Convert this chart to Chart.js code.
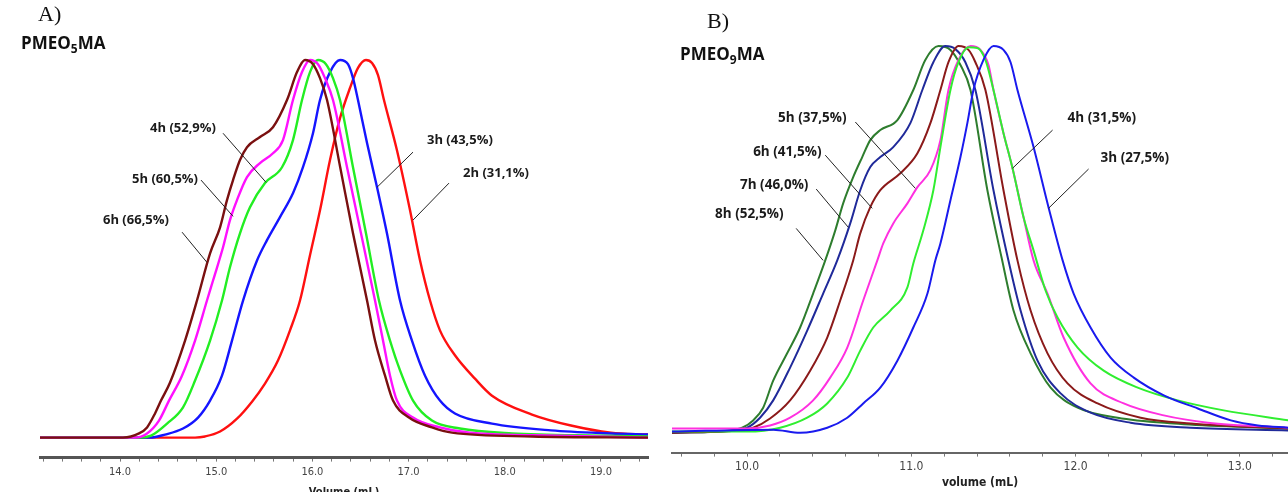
<!DOCTYPE html>
<html lang="en">
<head>
<meta charset="UTF-8">
<title>SEC traces PMEO5MA / PMEO9MA</title>
<script src="https://cdn.jsdelivr.net/npm/chart.js"></script>
<style>
  html, body { margin: 0; padding: 0; background: #fff; overflow: hidden; }
  .wrap { position: relative; width: 1288px; height: 492px; overflow: hidden; }
  canvas { position: absolute; top: 0; }
  #chartA { left: 0; }
  #chartB { left: 665px; }
  .panel { position: absolute; font-family: 'Liberation Serif', serif; font-size: 22px; color: #111; }
  .name { position: absolute; font-family: 'Open Sans', sans-serif; font-weight: bold; font-size: 17px; color: #111; }
  .name sub { font-size: 12px; vertical-align: -4px; line-height: 0; }
</style>
</head>
<body>
<div class="wrap">
  <canvas id="chartA" width="655" height="499"></canvas>
  <canvas id="chartB" width="623" height="492"></canvas>
  <div class="panel" style="left:38px; top:1px;">A)</div>
  <div class="name" style="left:21px; top:31px;">PMEO<sub>5</sub>MA</div>
  <div class="panel" style="left:707px; top:8px;">B)</div>
  <div class="name" style="left:680px; top:42px;">PMEO<sub>9</sub>MA</div>
</div>

<script>
// ---- Panel A: PMEO5MA, [volume mL, normalised signal]
const a2h = [[13.168,0],[14.780,0],[14.884,0.003],[15.040,0.016],[15.216,0.050],[15.372,0.095],[15.507,0.143],[15.642,0.204],[15.767,0.284],[15.871,0.363],[15.975,0.483],[16.079,0.602],[16.183,0.735],[16.287,0.846],[16.391,0.926],[16.474,0.979],[16.557,1.0],[16.620,0.992],[16.682,0.960],[16.744,0.894],[16.879,0.761],[17.015,0.602],[17.119,0.469],[17.223,0.363],[17.326,0.284],[17.482,0.218],[17.690,0.156],[17.867,0.111],[18.283,0.061],[18.688,0.032],[19.104,0.013],[19.489,0.008]];
const a3h = [[13.168,0],[14.312,0],[14.468,0.008],[14.655,0.024],[14.811,0.053],[14.936,0.098],[15.060,0.164],[15.164,0.257],[15.279,0.363],[15.424,0.469],[15.528,0.523],[15.663,0.584],[15.798,0.647],[15.902,0.716],[16.006,0.806],[16.079,0.894],[16.183,0.968],[16.287,1.0],[16.370,0.989],[16.422,0.952],[16.474,0.894],[16.568,0.780],[16.672,0.663],[16.775,0.541],[16.911,0.363],[17.035,0.257],[17.171,0.164],[17.326,0.098],[17.482,0.064],[17.867,0.037],[18.480,0.019],[19.104,0.011],[19.489,0.008]];
const a4h = [[13.168,0],[14.208,0],[14.322,0.005],[14.489,0.037],[14.655,0.080],[14.780,0.151],[14.936,0.257],[15.060,0.363],[15.143,0.451],[15.247,0.541],[15.351,0.610],[15.507,0.674],[15.684,0.716],[15.798,0.788],[15.892,0.894],[15.975,0.968],[16.058,1.0],[16.141,0.989],[16.214,0.952],[16.287,0.894],[16.422,0.716],[16.557,0.541],[16.692,0.363],[16.807,0.257],[16.911,0.178],[17.046,0.098],[17.243,0.045],[17.534,0.024],[18.075,0.011],[18.990,0.005],[19.489,0.003]];
const a5h = [[13.168,0],[14.156,0],[14.281,0.011],[14.405,0.045],[14.509,0.098],[14.644,0.164],[14.780,0.257],[14.904,0.363],[14.967,0.416],[15.071,0.504],[15.143,0.576],[15.216,0.629],[15.320,0.690],[15.455,0.727],[15.590,0.753],[15.694,0.788],[15.798,0.894],[15.892,0.968],[15.975,1.0],[16.058,0.989],[16.131,0.952],[16.214,0.894],[16.360,0.716],[16.505,0.541],[16.651,0.363],[16.734,0.257],[16.807,0.164],[16.879,0.098],[17.046,0.053],[17.326,0.027],[17.638,0.013],[18.574,0.005],[19.489,0]];
const a6h = [[13.168,0],[14.031,0],[14.198,0.011],[14.281,0.027],[14.364,0.064],[14.426,0.098],[14.520,0.146],[14.676,0.257],[14.800,0.363],[14.936,0.488],[15.040,0.557],[15.112,0.629],[15.175,0.682],[15.247,0.735],[15.320,0.769],[15.455,0.796],[15.590,0.822],[15.736,0.894],[15.840,0.968],[15.923,1.0],[16.006,0.989],[16.079,0.952],[16.152,0.894],[16.289,0.716],[16.422,0.541],[16.568,0.363],[16.651,0.257],[16.755,0.164],[16.838,0.098],[17.004,0.053],[17.243,0.027],[17.451,0.013],[18.283,0.003],[19.489,0]];

// ---- Panel B: PMEO9MA
const b3h = [[9.543,0],[10.159,0.005],[10.323,-0.003],[10.488,0.010],[10.610,0.036],[10.707,0.073],[10.811,0.114],[10.915,0.184],[11.012,0.270],[11.098,0.358],[11.146,0.444],[11.177,0.488],[11.238,0.600],[11.299,0.712],[11.341,0.800],[11.378,0.886],[11.439,0.964],[11.500,1.0],[11.561,0.990],[11.604,0.958],[11.646,0.886],[11.744,0.738],[11.835,0.582],[11.921,0.444],[11.988,0.358],[12.091,0.270],[12.213,0.192],[12.354,0.140],[12.537,0.094],[12.744,0.060],[12.945,0.029],[13.110,0.016],[13.299,0.010]];
const b4h = [[9.543,0],[10.0,0],[10.201,0.010],[10.366,0.036],[10.488,0.073],[10.610,0.140],[10.689,0.210],[10.768,0.270],[10.872,0.314],[10.976,0.374],[11.012,0.436],[11.073,0.522],[11.134,0.626],[11.177,0.738],[11.238,0.886],[11.287,0.958],[11.348,0.997],[11.402,0.995],[11.451,0.964],[11.500,0.886],[11.561,0.774],[11.616,0.683],[11.683,0.556],[11.744,0.470],[11.817,0.366],[11.890,0.296],[12.012,0.218],[12.171,0.158],[12.378,0.114],[12.622,0.081],[12.902,0.055],[13.299,0.029]];
const b5h = [[9.543,0.008],[10.0,0.008],[10.140,0.016],[10.262,0.036],[10.402,0.081],[10.506,0.140],[10.610,0.218],[10.707,0.340],[10.793,0.444],[10.829,0.488],[10.890,0.540],[10.976,0.592],[11.037,0.634],[11.116,0.678],[11.177,0.756],[11.226,0.886],[11.287,0.964],[11.360,1.0],[11.421,0.990],[11.470,0.951],[11.500,0.886],[11.561,0.774],[11.616,0.683],[11.683,0.556],[11.744,0.444],[11.829,0.358],[11.927,0.244],[12.091,0.125],[12.293,0.073],[12.537,0.042],[12.805,0.023],[13.299,0.010]];
const b6h = [[9.543,-0.003],[9.939,0.003],[10.037,0.010],[10.140,0.034],[10.262,0.081],[10.384,0.158],[10.488,0.244],[10.567,0.340],[10.646,0.444],[10.689,0.514],[10.750,0.582],[10.811,0.626],[10.933,0.670],[11.037,0.722],[11.116,0.800],[11.177,0.886],[11.226,0.958],[11.287,1.0],[11.348,0.990],[11.390,0.958],[11.451,0.886],[11.561,0.626],[11.646,0.444],[11.726,0.314],[11.829,0.203],[11.951,0.125],[12.134,0.073],[12.396,0.036],[12.701,0.021],[13.299,0.008]];
const b7h = [[9.543,-0.003],[9.915,0.003],[10.0,0.010],[10.079,0.036],[10.159,0.081],[10.262,0.166],[10.366,0.262],[10.463,0.358],[10.549,0.444],[10.628,0.540],[10.689,0.626],[10.750,0.686],[10.811,0.712],[10.890,0.738],[10.994,0.800],[11.067,0.886],[11.134,0.958],[11.207,1.0],[11.268,0.992],[11.329,0.958],[11.390,0.886],[11.500,0.626],[11.591,0.444],[11.665,0.314],[11.768,0.184],[11.909,0.099],[12.091,0.049],[12.335,0.023],[12.701,0.010],[13.299,0.003]];
const b8h = [[9.543,-0.003],[9.896,0.003],[9.970,0.010],[10.037,0.029],[10.098,0.062],[10.159,0.132],[10.244,0.203],[10.323,0.270],[10.402,0.358],[10.476,0.444],[10.537,0.522],[10.585,0.592],[10.646,0.660],[10.701,0.712],[10.750,0.756],[10.811,0.782],[10.915,0.808],[11.012,0.886],[11.085,0.964],[11.165,1.0],[11.238,0.990],[11.299,0.951],[11.360,0.886],[11.463,0.626],[11.549,0.452],[11.622,0.314],[11.726,0.203],[11.848,0.114],[12.012,0.062],[12.256,0.036],[12.598,0.021],[12.945,0.013],[13.299,0.008]];

// callouts: text, text anchor [x, y], leader line from [x, y] to [x, y] (data units)
const labelsA = [
  ['4h (52,9%)', [14.312, 0.820], [15.071, 0.806], [15.518, 0.676]],
  ['5h (60,5%)', [14.125, 0.684], [14.842, 0.682], [15.175, 0.586]],
  ['6h (66,5%)', [13.823, 0.576], [14.645, 0.544], [14.904, 0.464]],
  ['3h (43,5%)', [17.191, 0.788], [17.046, 0.756], [16.672, 0.663]],
  ['2h (31,1%)', [17.566, 0.700], [17.420, 0.674], [17.046, 0.576]]
];
const labelsB = [
  ['5h (37,5%)', [10.189, 0.813], [10.659, 0.803], [11.024, 0.631]],
  ['6h (41,5%)', [10.037, 0.725], [10.476, 0.717], [10.762, 0.579]],
  ['7h (46,0%)', [9.957, 0.639], [10.421, 0.629], [10.616, 0.530]],
  ['8h (52,5%)', [9.805, 0.564], [10.299, 0.527], [10.463, 0.444]],
  ['4h (31,5%)', [11.951, 0.813], [11.860, 0.782], [11.616, 0.683]],
  ['3h (27,5%)', [12.152, 0.709], [12.079, 0.681], [11.835, 0.579]]
];

const toXY = arr => arr.map(p => ({ x: p[0], y: p[1] }));

const callouts = {
  id: 'callouts',
  afterDatasetsDraw(chart, args, opts) {
    const ctx = chart.ctx, xs = chart.scales.x, ys = chart.scales.y;
    ctx.save();
    ctx.strokeStyle = '#222';
    ctx.lineWidth = 1;
    ctx.fillStyle = '#1a1a1a';
    ctx.font = 'bold ' + opts.size + 'px "Open Sans", sans-serif';
    ctx.textAlign = 'left';
    ctx.textBaseline = 'middle';
    opts.items.forEach(([txt, at, p1, p2]) => {
      ctx.beginPath();
      ctx.moveTo(xs.getPixelForValue(p1[0]), ys.getPixelForValue(p1[1]));
      ctx.lineTo(xs.getPixelForValue(p2[0]), ys.getPixelForValue(p2[1]));
      ctx.stroke();
      ctx.fillText(txt, xs.getPixelForValue(at[0]), ys.getPixelForValue(at[1]));
    });
    ctx.restore();
  }
};

function line(data, color, width) {
  return {
    data: toXY(data),
    borderColor: color,
    borderWidth: width,
    pointRadius: 0,
    cubicInterpolationMode: 'monotone',
    fill: false
  };
}

function makeChart(id, sets, xr, yr, pad, axis, items, labelSize) {
  return new Chart(document.getElementById(id), {
    type: 'line',
    data: { datasets: sets },
    options: {
      responsive: false,
      animation: false,
      devicePixelRatio: 1,
      layout: { padding: pad },
      plugins: {
        legend: { display: false },
        tooltip: { enabled: false },
        callouts: { items: items, size: labelSize }
      },
      scales: {
        x: {
          type: 'linear',
          min: xr[0], max: xr[1],
          border: { display: true, color: axis.line, width: axis.lineWidth },
          grid: { display: true, drawOnChartArea: false, drawTicks: true, tickLength: 4, color: '#777' },
          ticks: {
            stepSize: 0.2,
            includeBounds: false,
            autoSkip: false,
            maxRotation: 0,
            padding: axis.tickPad,
            color: '#444',
            font: { family: axis.font, size: axis.tickSize },
            callback: v => Math.abs(v - Math.round(v)) < 1e-6 ? v.toFixed(1) : ''
          },
          title: {
            display: true,
            text: axis.title,
            color: '#222',
            padding: { top: axis.titlePad, bottom: 0 },
            font: { family: axis.font, size: axis.titleSize, weight: 'bold', lineHeight: axis.titleLH }
          }
        },
        y: { display: false, min: yr[0], max: yr[1] }
      }
    },
    plugins: [callouts]
  });
}

const narrow = '"Liberation Sans Narrow", "DejaVu Sans Condensed", sans-serif';

makeChart('chartA',
  [line(a6h, '#7a1010', 2.4), line(a5h, '#ff10ff', 2.4), line(a4h, '#22ee22', 2.4), line(a3h, '#1515ff', 2.4), line(a2h, '#ff1010', 2.4)],
  [13.168, 19.489], [-0.053, 1.053],
  { left: 40, right: 7, top: 40, bottom: 0 },
  { line: '#555', lineWidth: 3, font: narrow, tickSize: 11, tickPad: 4, title: 'Volume (mL)', titleSize: 11, titlePad: 3, titleLH: 1.2 },
  labelsA, 13);

makeChart('chartB',
  [line(b3h, '#1a1aee', 2), line(b4h, '#30ee30', 2), line(b5h, '#ff30e0', 2), line(b6h, '#8b1a1a', 2), line(b7h, '#202a9a', 2), line(b8h, '#2e7d2e', 2)],
  [9.543, 13.293], [-0.0545, 1.0416],
  { left: 7, right: 0, top: 30, bottom: 3 },
  { line: '#666', lineWidth: 2, font: narrow, tickSize: 12, tickPad: 3, title: 'volume (mL)', titleSize: 12, titlePad: 0, titleLH: 1 },
  labelsB, 13.5);
</script>
</body>
</html>
